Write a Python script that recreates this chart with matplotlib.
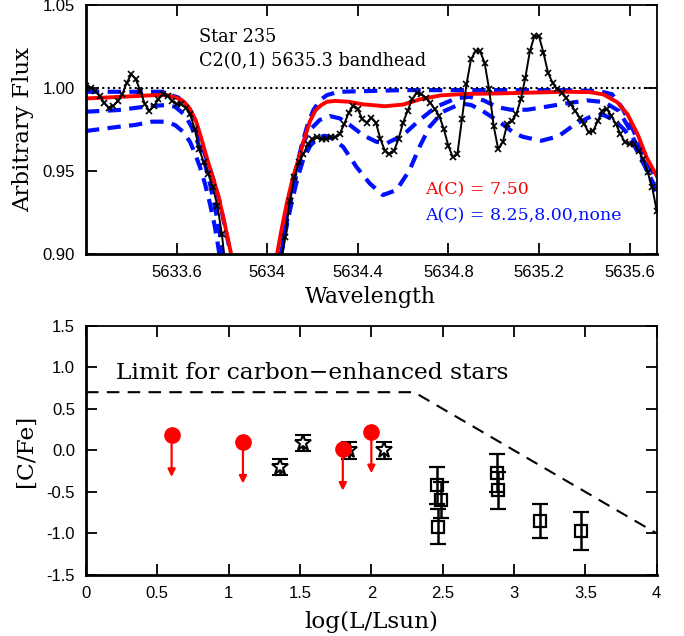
import numpy as np
import matplotlib
matplotlib.use("Agg")
import matplotlib.pyplot as plt

# ---------------- top panel data ----------------
obs_start, obs_step = 5633.20, 0.02
obs_flux = [1.001, 1.000, 0.998, 0.995, 0.991, 0.988, 0.989, 0.992, 0.996, 1.003,
            1.008, 1.005, 0.998, 0.990, 0.986, 0.989, 0.993, 0.996, 0.995, 0.992,
            0.990, 0.990, 0.988, 0.984, 0.975, 0.963, 0.955, 0.948, 0.940, 0.929,
            0.912, 0.886, 0.855, 0.830, 0.815, 0.805, 0.800, 0.805, 0.815, 0.830,
            0.850, 0.870, 0.885, 0.896, 0.910, 0.932, 0.946, 0.955, 0.960, 0.966,
            0.969, 0.970, 0.969, 0.969, 0.970, 0.970, 0.972, 0.978, 0.985, 0.989,
            0.987, 0.981, 0.979, 0.982, 0.979, 0.969, 0.962, 0.960, 0.962, 0.969,
            0.979, 0.986, 0.993, 0.997, 0.996, 0.994, 0.991, 0.987, 0.983, 0.975,
            0.965, 0.958, 0.960, 0.981, 1.002, 1.017, 1.022, 1.022, 1.015, 0.999,
            0.977, 0.963, 0.967, 0.978, 0.980, 0.984, 0.993, 1.006, 1.022, 1.031,
            1.031, 1.021, 1.009, 1.003, 0.999, 0.997, 0.994, 0.990, 0.986, 0.982,
            0.978, 0.973, 0.974, 0.980, 0.986, 0.987, 0.983, 0.978, 0.972, 0.967,
            0.966, 0.966, 0.962, 0.957, 0.949, 0.940, 0.926]
obs_wave = obs_start + obs_step * np.arange(len(obs_flux))

red_wave = [5633.20, 5633.36, 5633.507, 5633.558, 5633.608, 5633.633, 5633.658, 5633.684,
            5633.709, 5633.734, 5633.759, 5633.785, 5633.81, 5633.835, 5633.86, 5633.90,
            5633.95, 5634.00, 5634.042, 5634.062, 5634.087, 5634.113, 5634.138, 5634.163,
            5634.188, 5634.214, 5634.239, 5634.264, 5634.30, 5634.36, 5634.42, 5634.52,
            5634.60, 5634.676, 5634.765, 5634.869, 5635.021, 5635.162, 5635.314, 5635.425,
            5635.485, 5635.546, 5635.591, 5635.637, 5635.677, 5635.725]
red_flux = [0.9935, 0.9945, 0.9955, 0.9955, 0.9935, 0.9915, 0.9875, 0.9805,
            0.9695, 0.9575, 0.9465, 0.9345, 0.9195, 0.9035, 0.8885, 0.86,
            0.80, 0.86, 0.8985, 0.9135, 0.9305, 0.9455, 0.9565, 0.9685,
            0.9795, 0.9865, 0.9895, 0.9915, 0.9920, 0.9915, 0.9900, 0.9888,
            0.9898, 0.9930, 0.9953, 0.9962, 0.9965, 0.9970, 0.9975, 0.9973,
            0.9959, 0.9912, 0.9840, 0.9715, 0.9575, 0.9455]

none_wave = [5633.20, 5633.406, 5633.547, 5633.585, 5633.608, 5633.645, 5633.674, 5633.703,
             5633.732, 5633.762, 5633.791, 5633.813, 5633.835, 5633.86, 5633.95, 5634.03,
             5634.052, 5634.077, 5634.103, 5634.128, 5634.153, 5634.178, 5634.204, 5634.234,
             5634.264, 5634.314, 5634.60, 5635.00, 5635.30, 5635.464, 5635.523, 5635.567,
             5635.612, 5635.657, 5635.701, 5635.723]
none_flux = [0.9975, 0.9975, 0.9975, 0.9950, 0.9940, 0.9890, 0.9810, 0.9690,
             0.9570, 0.9450, 0.9310, 0.9165, 0.9025, 0.8880, 0.80, 0.88,
             0.8985, 0.9185, 0.9365, 0.9515, 0.9655, 0.9775, 0.9865, 0.9925,
             0.9955, 0.9975, 0.9985, 0.9985, 0.9985, 0.9980, 0.9960, 0.9880,
             0.9758, 0.9616, 0.9495, 0.9430]

c800_wave = [5633.20, 5633.342, 5633.460, 5633.548, 5633.593, 5633.637, 5633.666, 5633.695,
             5633.725, 5633.747, 5633.769, 5633.791, 5633.801, 5633.83, 5633.93, 5634.04,
             5634.06, 5634.085, 5634.11, 5634.135, 5634.151, 5634.188, 5634.232, 5634.276,
             5634.320, 5634.365, 5634.423, 5634.482, 5634.526, 5634.60, 5634.673, 5634.747,
             5634.835, 5634.894, 5634.956, 5635.016, 5635.075, 5635.148, 5635.223, 5635.311,
             5635.414, 5635.488, 5635.553, 5635.597, 5635.642, 5635.687, 5635.716]
c800_flux = [0.9855, 0.9865, 0.9885, 0.9895, 0.9885, 0.9835, 0.9764, 0.9664,
             0.9544, 0.9423, 0.9283, 0.9122, 0.9022, 0.88, 0.80, 0.88,
             0.898, 0.918, 0.936, 0.951, 0.9644, 0.9745, 0.9805, 0.9829,
             0.9815, 0.9775, 0.9714, 0.9674, 0.9664, 0.9714, 0.9805, 0.9885,
             0.9936, 0.9945, 0.9923, 0.9883, 0.9867, 0.9867, 0.9883, 0.9903,
             0.9923, 0.9913, 0.9860, 0.9758, 0.9616, 0.9474, 0.9393]

c825_wave = [5633.20, 5633.342, 5633.416, 5633.490, 5633.548, 5633.593, 5633.629, 5633.659,
             5633.681, 5633.703, 5633.725, 5633.747, 5633.769, 5633.784, 5633.81, 5633.92,
             5634.04, 5634.06, 5634.085, 5634.11, 5634.135, 5634.16, 5634.19, 5634.22,
             5634.25, 5634.276, 5634.335, 5634.394, 5634.453, 5634.511, 5634.571, 5634.629,
             5634.673, 5634.717, 5634.776, 5634.857, 5634.901, 5634.945, 5634.99, 5635.034,
             5635.092, 5635.129, 5635.159, 5635.210, 5635.286, 5635.360, 5635.434, 5635.486,
             5635.538, 5635.582, 5635.627, 5635.672, 5635.716]
c825_flux = [0.9739, 0.9764, 0.9775, 0.9795, 0.9795, 0.9775, 0.9734, 0.9674,
             0.9604, 0.9523, 0.9423, 0.9303, 0.9163, 0.9042, 0.88, 0.80,
             0.88, 0.898, 0.916, 0.932, 0.946, 0.957, 0.965, 0.969,
             0.9710, 0.9704, 0.9644, 0.9523, 0.9423, 0.9353, 0.9383, 0.9504,
             0.9644, 0.9764, 0.9855, 0.9905, 0.9895, 0.9865, 0.9825, 0.9785,
             0.9725, 0.9704, 0.9695, 0.9680, 0.9707, 0.9780, 0.9829, 0.9835,
             0.9800, 0.9738, 0.9636, 0.9515, 0.9373]

top_xticks = [5633.6, 5634.0, 5634.4, 5634.8, 5635.2, 5635.6]
top_xticklabels = ["5633.6", "5634", "5634.4", "5634.8", "5635.2", "5635.6"]
top_yticks = [0.90, 0.95, 1.00, 1.05]
top_yticklabels = ["0.90", "0.95", "1.00", "1.05"]

# ---------------- bottom panel data ----------------
lim_x = [0.60, 1.10, 1.80, 2.00]
lim_y = [0.18, 0.10, 0.015, 0.225]
lim_len = 0.50

star_x = [1.36, 1.52, 1.84, 2.09]
star_y = [-0.20, 0.09, 0.00, 0.00]
star_err = [0.10, 0.10, 0.10, 0.10]

sq_x = [2.46, 2.49, 2.47, 2.88, 2.89, 3.18, 3.47]
sq_y = [-0.42, -0.60, -0.92, -0.27, -0.48, -0.85, -0.97]
sq_err = [0.22, 0.22, 0.21, 0.23, 0.22, 0.21, 0.23]

limit_x = [0.0, 2.3, 4.0]
limit_y = [0.70, 0.70, -1.00]

bot_xticks = [0, 0.5, 1, 1.5, 2, 2.5, 3, 3.5, 4]
bot_xticklabels = ["0", "0.5", "1", "1.5", "2", "2.5", "3", "3.5", "4"]
bot_yticks = [-1.5, -1.0, -0.5, 0.0, 0.5, 1.0, 1.5]
bot_yticklabels = ["-1.5", "-1.0", "-0.5", "0.0", "0.5", "1.0", "1.5"]

# ---------------- figure ----------------
W, H = 684, 636
fig = plt.figure(figsize=(W / 100, H / 100), dpi=100)
serif = ["DejaVu Serif"]
sans = ["Liberation Sans", "DejaVu Sans"]

def frac(l, t, r, b):
    return [l / W, 1 - b / H, (r - l) / W, (b - t) / H]

def style_axes(ax):
    for s in ["left", "bottom"]:
        ax.spines[s].set_linewidth(2.0)
    for s in ["top", "right"]:
        ax.spines[s].set_linewidth(1.3)
    ax.tick_params(which="both", direction="in", top=True, right=True,
                   length=8, width=1.3, pad=8, labelsize=12)
    for lab in ax.get_xticklabels() + ax.get_yticklabels():
        lab.set_family(sans)

ax1 = fig.add_axes(frac(86, 4.6, 656.7, 253.7))
ax1.plot(c825_wave, c825_flux, color="#0010ff", lw=3, ls=(0, (3.2, 2.0)))
ax1.plot(c800_wave, c800_flux, color="#0010ff", lw=3, ls=(0, (3.2, 2.0)))
ax1.plot(none_wave, none_flux, color="#0010ff", lw=3, ls=(0, (3.2, 2.0)))
ax1.plot(red_wave, red_flux, color="#ff0000", lw=2.8)
ax1.plot(obs_wave, obs_flux, color="black", lw=1.4, marker="x", ms=4.5, mew=1.2)
ax1.axhline(1.0, color="black", ls=(0, (1, 1.6)), lw=1.5)
ax1.set_xlim(5633.2, 5635.72)
ax1.set_ylim(0.90, 1.05)
ax1.set_xticks(top_xticks)
ax1.set_xticklabels(top_xticklabels)
ax1.set_yticks(top_yticks)
ax1.set_yticklabels(top_yticklabels)
style_axes(ax1)
ax1.text(5633.697, 1.0305, "Star 235", family=serif, fontsize=12.7, va="center", ha="left")
ax1.text(5633.697, 1.016, "C2(0,1) 5635.3 bandhead", family=serif, fontsize=12.7, va="center", ha="left")
ax1.text(5634.699, 0.9383, "A(C) = 7.50", family=serif, fontsize=12.5, va="center", ha="left", color="#ff0000")
ax1.text(5634.699, 0.9226, "A(C) = 8.25,8.00,none", family=serif, fontsize=12.5, va="center", ha="left", color="#0010ff")
fig.text(23 / W, 1 - 129.5 / H, "Arbitrary Flux", family=serif, fontsize=16.5, rotation=90, ha="center", va="center")
fig.text(370 / W, 1 - 296.7 / H, "Wavelength", family=serif, fontsize=15.8, ha="center", va="center")

ax2 = fig.add_axes(frac(86, 325.7, 656.7, 575))
ax2.plot(limit_x, limit_y, color="black", lw=1.5, ls=(0, (6, 4)))
for x, y in zip(lim_x, lim_y):
    ax2.annotate("", xy=(x, y - lim_len), xytext=(x, y),
                 arrowprops=dict(arrowstyle="-|>", color="#ff0000", lw=1.6,
                                 mutation_scale=11, shrinkA=0, shrinkB=0))
ax2.plot(lim_x, lim_y, ls="none", marker="o", ms=11, color="#ff0000", zorder=5)
ax2.errorbar(star_x, star_y, yerr=star_err, fmt="*", ms=12, mfc="white", mec="black",
             mew=1.5, ecolor="black", elinewidth=2, capsize=6, capthick=2, color="black")
ax2.errorbar(sq_x, sq_y, yerr=sq_err, fmt="s", ms=8.5, mfc="none", mec="black",
             mew=1.6, ecolor="black", elinewidth=1.8, capsize=6, capthick=1.8, color="black")
ax2.set_xlim(0, 4)
ax2.set_ylim(-1.5, 1.5)
ax2.set_xticks(bot_xticks)
ax2.set_xticklabels(bot_xticklabels)
ax2.set_yticks(bot_yticks)
ax2.set_yticklabels(bot_yticklabels)
style_axes(ax2)
ax2.text(0.208, 0.927, "Limit for carbon\u2212enhanced stars", family=serif, fontsize=16.8,
         va="center", ha="left")
fig.text(26 / W, 1 - 450.7 / H, "[C/Fe]", family=serif, fontsize=16.8, rotation=90, ha="center", va="center")
fig.text(371 / W, 1 - 621.7 / H, "log(L/Lsun)", family=serif, fontsize=16.7, ha="center", va="center")

fig.savefig("out.png", dpi=100)
